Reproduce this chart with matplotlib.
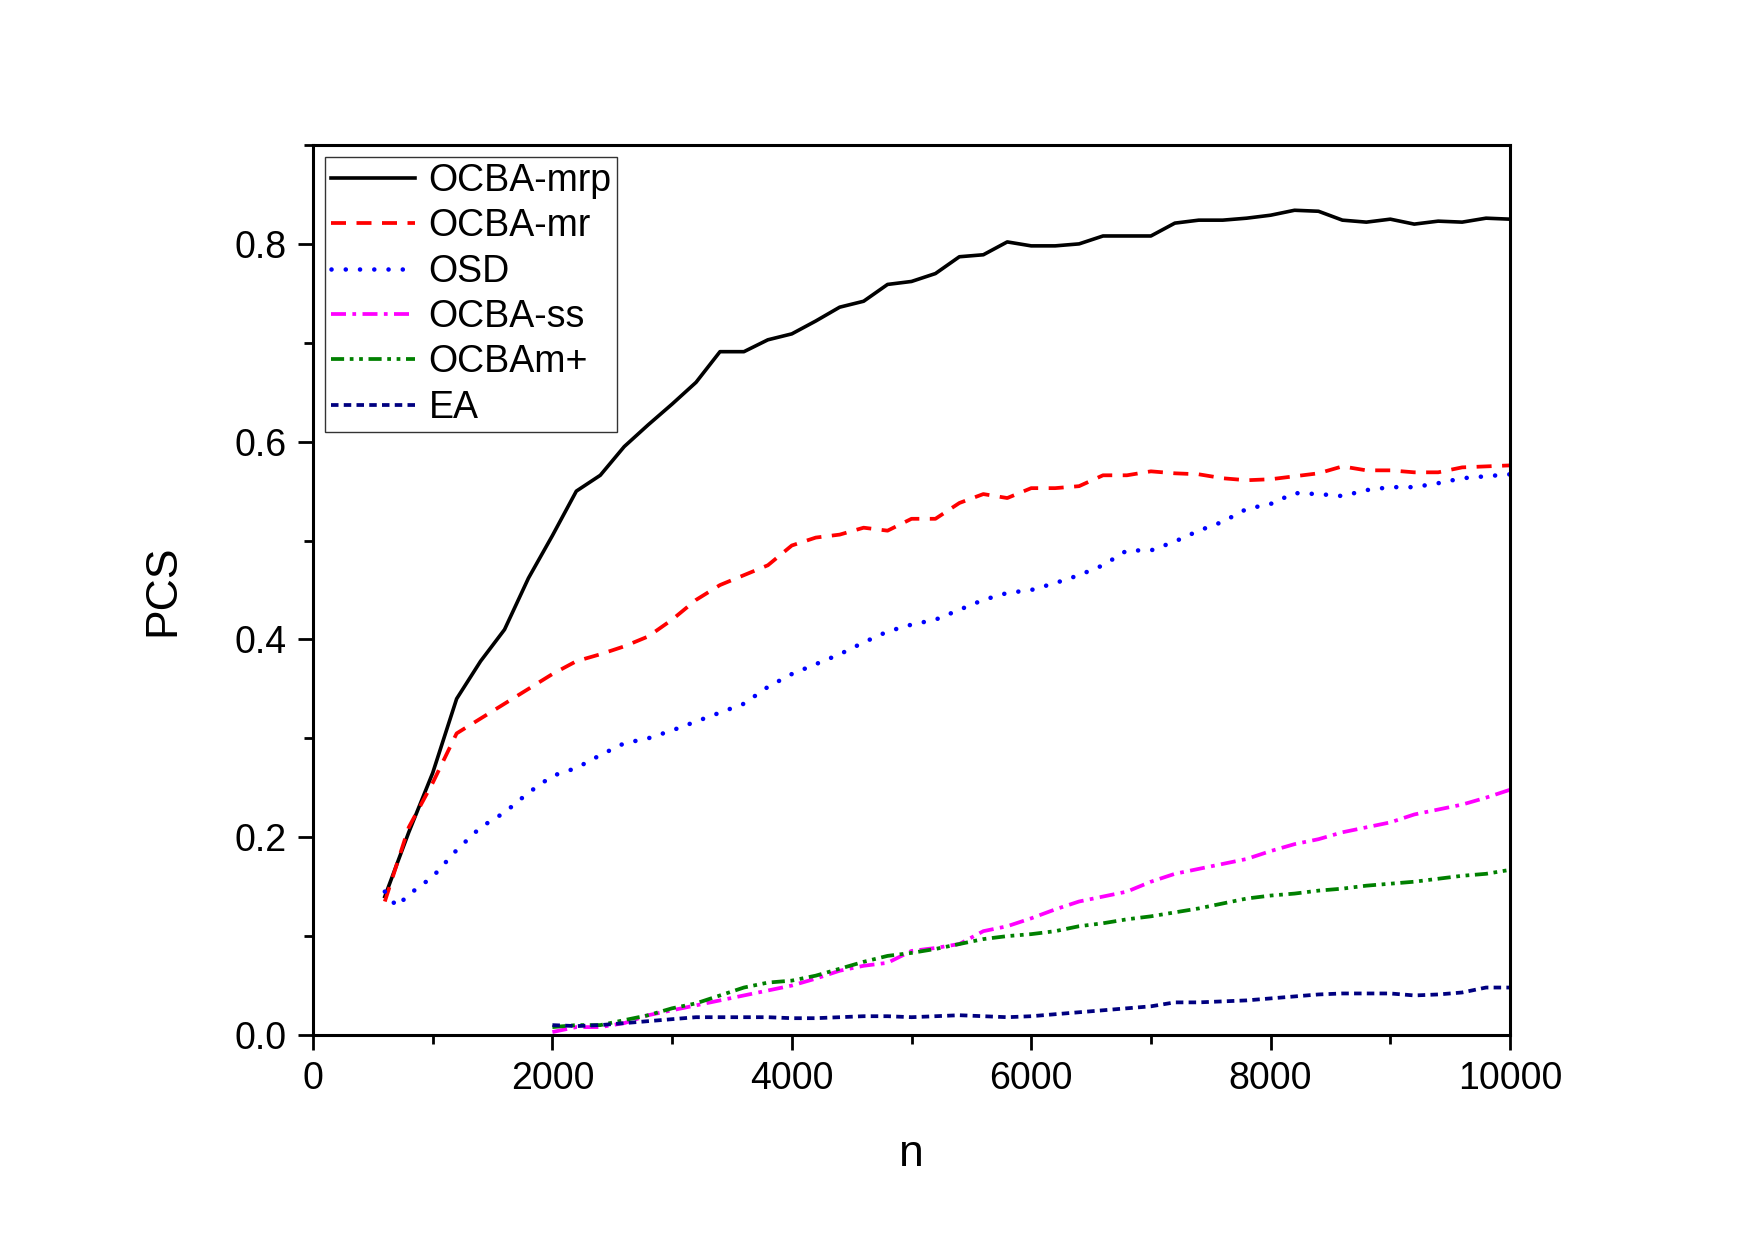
import matplotlib
matplotlib.use("Agg")
import matplotlib.pyplot as plt
from matplotlib.ticker import MultipleLocator

plt.rcParams['font.family'] = ['Liberation Sans', 'DejaVu Sans']

n_long = [600, 800, 1000, 1200, 1400, 1600, 1800, 2000, 2200, 2400, 2600, 2800, 3000,
          3200, 3400, 3600, 3800, 4000, 4200, 4400, 4600, 4800, 5000, 5200, 5400, 5600,
          5800, 6000, 6200, 6400, 6600, 6800, 7000, 7200, 7400, 7600, 7800, 8000, 8200,
          8400, 8600, 8800, 9000, 9200, 9400, 9600, 9800, 10000]

ocba_mrp = [0.14, 0.205, 0.265, 0.34, 0.378, 0.41, 0.462, 0.505, 0.55, 0.566, 0.595, 0.617,
            0.638, 0.66, 0.691, 0.691, 0.703, 0.709, 0.722, 0.736, 0.742, 0.759, 0.762, 0.77,
            0.787, 0.789, 0.802, 0.798, 0.798, 0.80, 0.808, 0.808, 0.808, 0.821, 0.824, 0.824,
            0.826, 0.829, 0.834, 0.833, 0.824, 0.822, 0.825, 0.82, 0.823, 0.822, 0.826, 0.825]

ocba_mr = [0.135, 0.21, 0.255, 0.305, 0.32, 0.335, 0.35, 0.365, 0.378, 0.385, 0.393, 0.403,
           0.42, 0.44, 0.455, 0.465, 0.475, 0.495, 0.503, 0.506, 0.513, 0.51, 0.522, 0.522,
           0.538, 0.547, 0.543, 0.553, 0.553, 0.555, 0.566, 0.566, 0.57, 0.568, 0.567, 0.563,
           0.561, 0.562, 0.565, 0.568, 0.575, 0.571, 0.571, 0.569, 0.569, 0.574, 0.575, 0.576]

n_osd = [600, 700, 800, 1000, 1200, 1400, 1600, 1800, 2000, 2200, 2400, 2600, 2800, 3000,
         3200, 3400, 3600, 3800, 4000, 4200, 4400, 4600, 4800, 5000, 5200, 5400, 5600,
         5800, 6000, 6200, 6400, 6600, 6800, 7000, 7200, 7400, 7600, 7800, 8000, 8200,
         8400, 8600, 8800, 9000, 9200, 9400, 9600, 9800, 10000]

osd = [0.145, 0.13, 0.142, 0.16, 0.187, 0.21, 0.225, 0.245, 0.262, 0.27, 0.283, 0.295, 0.3,
       0.308, 0.317, 0.326, 0.335, 0.352, 0.365, 0.375, 0.385, 0.397, 0.408, 0.415, 0.42,
       0.43, 0.44, 0.447, 0.45, 0.457, 0.465, 0.475, 0.49, 0.49, 0.499, 0.51, 0.519,
       0.532, 0.537, 0.548, 0.547, 0.545, 0.551, 0.554, 0.554, 0.558, 0.563, 0.565, 0.567]

n_short = [2000, 2200, 2400, 2600, 2800, 3000, 3200, 3400, 3600, 3800, 4000, 4200, 4400,
           4600, 4800, 5000, 5200, 5400, 5600, 5800, 6000, 6200, 6400, 6600, 6800, 7000,
           7200, 7400, 7600, 7800, 8000, 8200, 8400, 8600, 8800, 9000, 9200, 9400, 9600,
           9800, 10000]

ocba_ss = [0.003, 0.008, 0.008, 0.012, 0.02, 0.025, 0.03, 0.035, 0.04, 0.045, 0.05, 0.057,
           0.065, 0.07, 0.073, 0.085, 0.088, 0.092, 0.105, 0.11, 0.118, 0.127, 0.135, 0.14,
           0.145, 0.155, 0.163, 0.168, 0.173, 0.178, 0.186, 0.193, 0.198, 0.205, 0.21, 0.215,
           0.223, 0.228, 0.233, 0.24, 0.248]

ocbam_plus = [0.008, 0.01, 0.01, 0.015, 0.02, 0.027, 0.032, 0.04, 0.048, 0.053, 0.055, 0.06,
              0.067, 0.074, 0.08, 0.083, 0.087, 0.092, 0.097, 0.10, 0.102, 0.105, 0.11, 0.113,
              0.117, 0.12, 0.124, 0.128, 0.133, 0.138, 0.141, 0.143, 0.146, 0.148, 0.151, 0.153,
              0.155, 0.158, 0.161, 0.163, 0.167]

ea = [0.01, 0.009, 0.01, 0.012, 0.014, 0.016, 0.018, 0.018, 0.018, 0.018, 0.017, 0.017,
      0.018, 0.019, 0.019, 0.018, 0.019, 0.02, 0.019, 0.018, 0.019, 0.021, 0.023, 0.025,
      0.027, 0.029, 0.033, 0.033, 0.034, 0.035, 0.037, 0.039, 0.041, 0.042, 0.042, 0.042,
      0.040, 0.041, 0.043, 0.048, 0.048]

fig = plt.figure(figsize=(17.55, 12.42), dpi=100)
ax = fig.add_axes([313/1755, 1 - 1035/1242, (1510-313)/1755, (1035-145)/1242])

lw = 2.7
ax.plot(n_long, ocba_mrp, color='black', lw=2.6, ls='-', label='OCBA-mrp')
ax.plot(n_long, ocba_mr, color='#ff0000', lw=lw, ls=(0, (4, 2.8)), label='OCBA-mr')
ax.plot(n_osd, osd, color='#0000ff', lw=3.3, ls=(0, (0.01, 3.1)), dash_capstyle='round',
        label='OSD')
ax.plot(n_short, ocba_ss, color='#ff00ff', lw=lw, ls=(0, (4, 1.7, 1, 1.7)), label='OCBA-ss')
ax.plot(n_short, ocbam_plus, color='#008000', lw=lw, ls=(0, (3.5, 1.5, 1, 1.5, 1, 1.5)),
        label='OCBAm+')
ax.plot(n_short, ea, color='#000080', lw=lw, ls=(0, (2, 1.4)), label='EA')

ax.set_xlim(0, 10000)
ax.set_ylim(0, 0.9)
ax.xaxis.set_major_locator(MultipleLocator(2000))
ax.xaxis.set_minor_locator(MultipleLocator(1000))
ax.yaxis.set_major_locator(MultipleLocator(0.2))
ax.yaxis.set_minor_locator(MultipleLocator(0.1))
ax.yaxis.set_major_formatter(plt.FuncFormatter(lambda v, p: f"{v:.1f}"))

for s in ax.spines.values():
    s.set_linewidth(2.2)
ax.tick_params(which='major', direction='out', length=11, width=2.0, labelsize=27, pad=8,
               top=False, right=False)
ax.tick_params(which='minor', direction='out', length=6.5, width=2.0, top=False, right=False)

ax.set_xlabel('n', fontsize=32, labelpad=26)
ax.set_ylabel('PCS', fontsize=32, labelpad=37)

leg = ax.legend(loc='upper left', fontsize=27, frameon=True, fancybox=False, edgecolor='black',
                handlelength=2.25, handletextpad=0.35, borderpad=0.15, labelspacing=0.25,
                borderaxespad=0.33)
leg.get_frame().set_linewidth(1.0)

fig.savefig('out.png', dpi=100)
